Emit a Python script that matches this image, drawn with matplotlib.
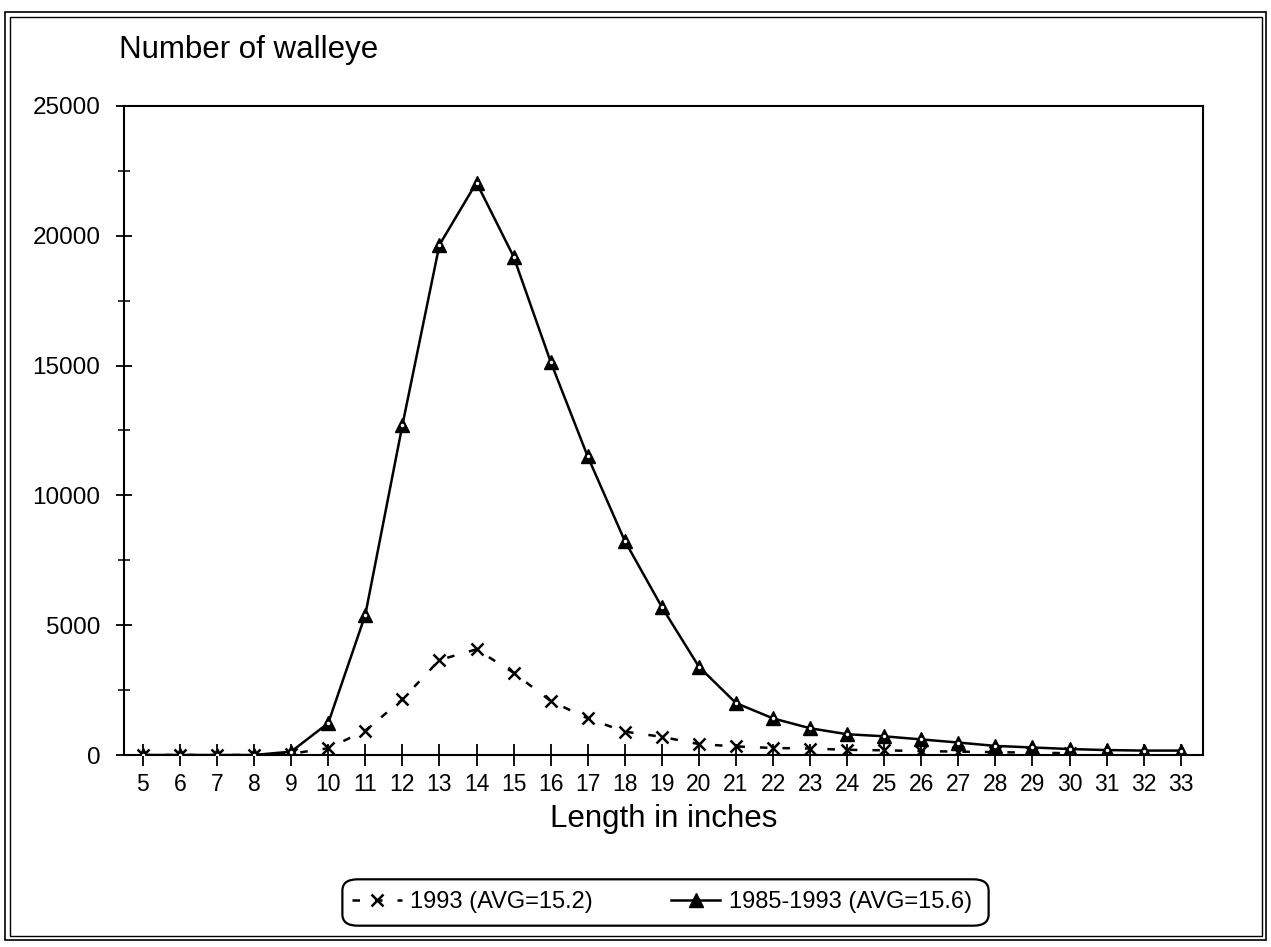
import matplotlib
matplotlib.use("Agg")
import matplotlib.pyplot as plt
from matplotlib.patches import Rectangle, FancyBboxPatch

plt.rcParams['font.family'] = ['Liberation Sans', 'DejaVu Sans']

# Length classes (inches)
lengths = [5, 6, 7, 8, 9, 10, 11, 12, 13, 14, 15, 16, 17, 18, 19, 20,
           21, 22, 23, 24, 25, 26, 27, 28, 29, 30, 31, 32, 33]

# 1985-1993 average catch by length
avg_8593 = [0, 0, 0, 0, 130, 1230, 5400, 12700, 19650, 22050, 19200, 15150,
            11500, 8250, 5700, 3400, 2000, 1410, 1030, 800, 720, 600, 480,
            350, 290, 230, 190, 170, 170]

# 1993 catch by length (marks visible up to 30 in.)
len_1993 = [5, 6, 7, 8, 9, 10, 11, 12, 13, 14, 15, 16, 17, 18, 19, 20,
            21, 22, 23, 24, 25, 26, 27, 28, 29, 30]
catch_1993 = [0, 0, 0, 0, 50, 260, 940, 2140, 3660, 4070, 3170, 2080,
              1410, 900, 700, 420, 330, 270, 250, 200, 180, 150, 130,
              110, 90, 70]

W, H = 1271, 947
fig = plt.figure(figsize=(W / 100, H / 100), dpi=100)
ax = fig.add_axes([124 / W, 1 - 755 / H, 1079 / W, 649 / H])

# 1993 series: x marks with a broken line
ax.plot(len_1993, catch_1993, color='black', linestyle=(0, (3, 6)),
        linewidth=1.8, marker='x', markersize=8.5, markeredgewidth=1.8,
        label='1993 (AVG=15.2)', zorder=3)

# 1985-1993 series: solid line with triangles
ax.plot(lengths, avg_8593, color='black', linestyle='-', linewidth=1.8,
        marker='^', markersize=9.5, markerfacecolor='black',
        label='1985-1993 (AVG=15.6)', zorder=4)
ax.plot(lengths, avg_8593, linestyle='none', marker='o', markersize=2.5,
        markerfacecolor='white', markeredgewidth=0, zorder=5)

ax.set_xlim(4.49, 33.6)
ax.set_ylim(0, 25000)
ax.set_xticks(lengths)
ax.set_yticks([0, 5000, 10000, 15000, 20000, 25000])
ax.set_yticks([2500, 7500, 12500, 17500, 22500], minor=True)

ax.tick_params(axis='x', direction='inout', length=16, width=1.3,
               labelsize=16.5, pad=5)
ax.tick_params(axis='y', which='major', direction='inout', length=12,
               width=1.3, labelsize=17.5, pad=11)
ax.tick_params(axis='y', which='minor', direction='inout', length=8,
               width=1.1)

for sp in ax.spines.values():
    sp.set_linewidth(1.5)

ax.set_xlabel('Length in inches', fontsize=22.5, labelpad=6)
fig.text(119 / W, 1 - 50 / H, 'Number of walleye', fontsize=22.5,
         ha='left', va='center')

leg = ax.legend(loc='center', bbox_to_anchor=(662 / W, 1 - 902 / H),
                bbox_transform=fig.transFigure, ncols=2, fontsize=17,
                frameon=False, handlelength=2.1, columnspacing=3.3,
                borderpad=0.0, handletextpad=0.35)

# rounded legend box
fig.patches.append(FancyBboxPatch((350 / W, 1 - 920 / H), 631 / W, 35 / H,
                                  boxstyle='round,pad=0.006,rounding_size=0.012',
                                  transform=fig.transFigure, fill=False,
                                  edgecolor='black', linewidth=1.6))

# double border round the whole page
fig.patches.append(Rectangle((5 / W, 7 / H), 1261 / W, 928 / H,
                             transform=fig.transFigure, fill=False,
                             edgecolor='black', linewidth=1.2))
fig.patches.append(Rectangle((10 / W, 11 / H), 1252 / W, 919 / H,
                             transform=fig.transFigure, fill=False,
                             edgecolor='black', linewidth=1.0))

fig.savefig('out.png', dpi=100)
